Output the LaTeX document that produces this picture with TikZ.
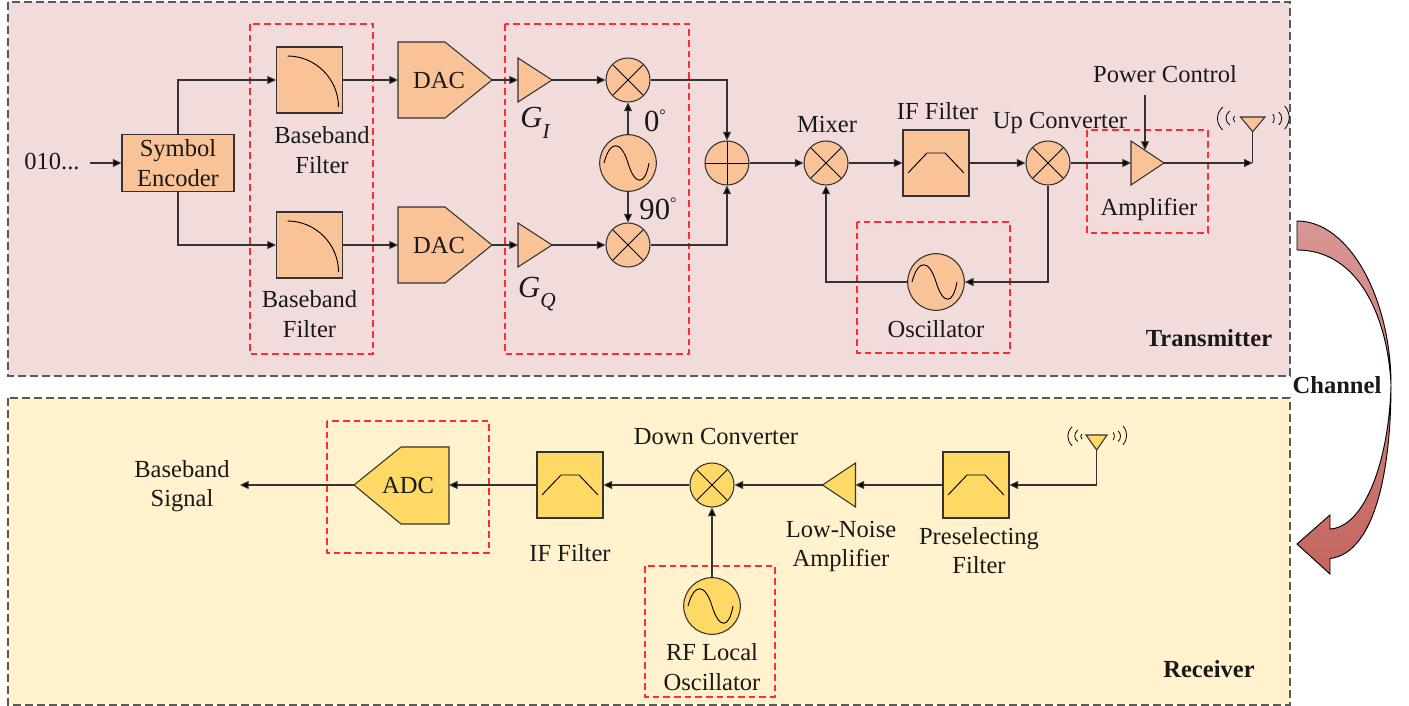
\documentclass[tikz,border=0pt]{standalone}
\usepackage{fontspec}
\setmainfont{Liberation Serif}
\usetikzlibrary{arrows.meta}
\definecolor{txbg}{HTML}{F2DCDB}
\definecolor{rxbg}{HTML}{FFF2CC}
\definecolor{txfill}{HTML}{FAC397}
\definecolor{rxfill}{HTML}{FFD966}
\definecolor{edge}{HTML}{333333}
\definecolor{panel}{HTML}{595959}
\definecolor{redbox}{HTML}{FF2A35}
\definecolor{chtop}{HTML}{D99694}
\definecolor{chbot}{HTML}{C4665E}
\tikzset{
  x=0.75pt,y=-0.75pt,
  panelbox/.style={draw=panel,line width=1pt,dash pattern=on 6pt off 3pt},
  groupbox/.style={draw=redbox,line width=0.9pt,dash pattern=on 5pt off 3pt},
  part/.style={draw=edge,line width=0.8pt,fill=#1},
  part/.default=txfill,
  conn/.style={draw=edge,line width=0.8pt},
  flow/.style={conn,-{Triangle[length=6.5pt,width=6pt,fill=black]}},
  glyph/.style={draw=black,line width=0.7pt},
  lbl/.style={align=center,inner sep=0pt,font=\fontsize{18.4}{22}\selectfont,text=black!90},
  head/.style={lbl,font=\fontsize{18.4}{22}\selectfont\bfseries},
  big/.style={lbl,font=\fontsize{23}{26}\selectfont},
  filt/.style={part=#1,rectangle,minimum width=49.5pt,minimum height=49.5pt,inner sep=0pt},
  mix/.style={part=#1,circle,minimum size=33pt,inner sep=0pt,path picture={
     \draw[glyph] (path picture bounding box.north west) -- (path picture bounding box.south east);
     \draw[glyph] (path picture bounding box.north east) -- (path picture bounding box.south west);}},
  add/.style={part=#1,circle,minimum size=33pt,inner sep=0pt,path picture={
     \draw[glyph] (path picture bounding box.north) -- (path picture bounding box.south);
     \draw[glyph] (path picture bounding box.east) -- (path picture bounding box.west);}},
  osc/.style={part=#1,circle,minimum size=42.5pt,inner sep=0pt},
}
\newcommand{\lowpassglyph}[1]{\draw[glyph,shift={(#1.center)}] (-22,-24) .. controls (6,-24) and (29,-1) .. (29,27);}
\newcommand{\bandglyph}[1]{\draw[glyph,shift={(#1.center)}] (-28,10) -- (-9,-10) -- (9,-10) -- (28,10);}
\newcommand{\sineglyph}[1]{\draw[glyph,shift={(#1.center)}] (-24,0) .. controls (-18,-23) and (-7,-23) .. (0,0) .. controls (7,23) and (17,23) .. (21,0);}
\newcommand{\wavesglyph}[2]{\begin{scope}[shift={(#1)},scale=#2]
  \draw[glyph,line width=0.6pt] (-30,-10) .. controls (-37,-3) and (-37,6) .. (-30,13);
  \draw[glyph,line width=0.6pt] (-23,-6) .. controls (-28,-2) and (-28,4) .. (-23,8);
  \draw[glyph,line width=0.6pt] (-18,-1) .. controls (-20,0) and (-20,3) .. (-18,5);
  \draw[glyph,line width=0.6pt] (20,-3) .. controls (22,-1) and (22,4) .. (20,6);
  \draw[glyph,line width=0.6pt] (26,-5) .. controls (30,-2) and (30,5) .. (26,8);
  \draw[glyph,line width=0.6pt] (32,-11) .. controls (38,-4) and (38,5) .. (32,12);
\end{scope}}
\begin{document}
\begin{tikzpicture}
\useasboundingbox (0,0) rectangle (1409,706);
% panels
\path[fill=txbg,panelbox] (8,2) rectangle (1290,376);
\path[fill=rxbg,panelbox] (8,398) rectangle (1290,705);
% groups
\draw[groupbox] (250,24) rectangle (373,354);
\draw[groupbox] (505,24) rectangle (689,354);
\draw[groupbox] (857,222) rectangle (1010,353);
\draw[groupbox] (1087,130) rectangle (1208,233);
\draw[groupbox] (327,421) rectangle (489,553);
\draw[groupbox] (645,566) rectangle (775,697);

% transmitter parts
\node[lbl] (bits) at (52,162) {010...};
\coordinate (bitsout) at (90,163);
\node[part,rectangle,minimum width=84pt,minimum height=42.75pt,inner sep=0pt,lbl] (enc) at (178,163) {Symbol\\Encoder};
\node[filt=txfill] (f1) at (309.5,80) {};
\node[filt=txfill] (f2) at (309.5,245) {};
\lowpassglyph{f1}\lowpassglyph{f2}
\node[lbl] (f1l) at (322,150) {Baseband\\Filter};
\node[lbl] (f2l) at (309.5,314) {Baseband\\Filter};
\draw[part] (398,42) -- (445,42) -- (492,80) -- (445,118) -- (398,118) -- cycle;
\draw[part] (398,207) -- (445,207) -- (492,245) -- (445,283) -- (398,283) -- cycle;
\node[lbl] (dac1) at (439,80) {DAC};
\node[lbl] (dac2) at (439,245) {DAC};
\coordinate (dac1w) at (398,80); \coordinate (dac1e) at (492,80);
\coordinate (dac2w) at (398,245); \coordinate (dac2e) at (492,245);
\draw[part] (518,58) -- (552,80) -- (518,102) -- cycle;
\draw[part] (518,223) -- (552,245) -- (518,267) -- cycle;
\coordinate (g1w) at (518,80); \coordinate (g1e) at (552,80);
\coordinate (g2w) at (518,245); \coordinate (g2e) at (552,245);
\node[big] (g1l) at (535,123) {\itshape G\raisebox{-0.35em}{\fontsize{16}{16}\selectfont I}};
\node[big] (g2l) at (537,294) {\itshape G\raisebox{-0.35em}{\fontsize{16}{16}\selectfont Q}};
\node[mix=txfill] (m1) at (628,80) {};
\node[mix=txfill] (m2) at (628,245) {};
\node[osc=txfill] (o1) at (628,163) {};
\sineglyph{o1}
\node[big] (deg0) at (655,121) {0\raisebox{0.35em}{\fontsize{12}{12}\selectfont °}};
\node[big] (deg90) at (658,209) {90\raisebox{0.35em}{\fontsize{12}{12}\selectfont °}};
\node[add=txfill] (sum) at (727,163) {};
\node[mix=txfill] (mx) at (826,163) {};
\node[lbl] (mxl) at (827,124) {Mixer};
\node[filt=txfill] (iff) at (936,163) {};
\bandglyph{iff}
\node[lbl] (iffl) at (937.5,111) {IF Filter};
\node[mix=txfill] (up) at (1048,163) {};
\node[lbl] (upl) at (1060,123) {Up Converter};
\node[osc=txfill] (o2) at (936,282) {};
\sineglyph{o2}
\node[lbl] (o2l) at (936,329) {Oscillator};
\draw[part] (1131,141) -- (1164,163) -- (1131,185) -- cycle;
\coordinate (paw) at (1131,163); \coordinate (pae) at (1164,163);
\node[lbl] (pal) at (1149,209.5) {Amplifier};
\node[lbl] (pcl) at (1165,74) {Power Control};
\coordinate (pcs) at (1145,95.5); \coordinate (pct) at (1145,150);
\draw[part] (1240.5,117) -- (1265,117) -- (1252.7,131.7) -- cycle;
\coordinate (ant1) at (1252.7,131.7); \coordinate (ant1j) at (1252.7,163);
\wavesglyph{1252.7,117}{1}
\node[head] (txl) at (1209,338.5) {Transmitter};

% transmitter connectors
\draw[flow] (bitsout) -- (enc.west);
\draw[flow] (enc.north) |- (f1.west);
\draw[flow] (enc.south) |- (f2.west);
\draw[flow] (f1.east) -- (dac1w);
\draw[flow] (f2.east) -- (dac2w);
\draw[flow] (dac1e) -- (g1w);
\draw[flow] (dac2e) -- (g2w);
\draw[flow] (g1e) -- (m1.west);
\draw[flow] (g2e) -- (m2.west);
\draw[flow] (o1.north) -- (m1.south);
\draw[flow] (o1.south) -- (m2.north);
\draw[flow] (m1.east) -| (sum.north);
\draw[flow] (m2.east) -| (sum.south);
\draw[flow] (sum.east) -- (mx.west);
\draw[flow] (mx.east) -- (iff.west);
\draw[flow] (iff.east) -- (up.west);
\draw[flow] (up.east) -- (paw);
\draw[flow] (up.south) |- (o2.east);
\draw[flow] (o2.west) -| (mx.south);
\draw[flow] (pcs) -- (pct);
\draw[flow] (pae) -- (ant1j);
\draw[conn] (ant1) -- (ant1j);

% channel arrow
\shade[top color=chtop,bottom color=chbot,draw=black,line width=0.7pt]
  (1297,221) .. controls (1350,221) and (1391,300) .. (1391,385)
  .. controls (1391,470) and (1375,553) .. (1330,558.5)
  -- (1330,574) -- (1297,544) -- (1330,515) -- (1330,529)
  .. controls (1365,527) and (1389,460) .. (1391,385)
  .. controls (1388,320) and (1360,250) .. (1297,250) -- cycle;
\node[head] (chl) at (1337,385) {Channel};

% receiver parts
\node[lbl] (bbl) at (182,486) {Baseband\\Signal};
\coordinate (bbout) at (240,485);
\draw[part=rxfill] (354,485) -- (401,447) -- (449,447) -- (449,524) -- (401,524) -- cycle;
\node[lbl] (adc) at (408,485) {ADC};
\coordinate (adcw) at (354,485); \coordinate (adce) at (449,485);
\node[filt=rxfill] (rif) at (570,485) {};
\bandglyph{rif}
\node[lbl] (rifl) at (570,553) {IF Filter};
\node[mix=rxfill] (dn) at (712,485) {};
\node[lbl] (dnl) at (716,436) {Down Converter};
\draw[part=rxfill] (822.5,485) -- (855.5,463) -- (855.5,507) -- cycle;
\coordinate (lnaw) at (822.5,485); \coordinate (lnae) at (855.5,485);
\node[lbl] (lnal) at (841,546.5) {Low-Noise\\Amplifier};
\node[filt=rxfill] (pre) at (976,485) {};
\bandglyph{pre}
\node[lbl] (prel) at (979,550.5) {Preselecting\\Filter};
\node[osc=rxfill] (o3) at (712,606) {};
\sineglyph{o3}
\node[lbl] (o3l) at (712,667) {RF Local\\Oscillator};
\draw[part=rxfill] (1086,435) -- (1107,435) -- (1096.7,450) -- cycle;
\coordinate (ant2) at (1096.7,450); \coordinate (ant2j) at (1096.7,485);
\wavesglyph{1096.7,435}{0.82}
\node[head] (rxl) at (1209,669) {Receiver};

% receiver connectors
\draw[conn] (ant2) -- (ant2j);
\draw[flow] (ant2j) -- (pre.east);
\draw[flow] (pre.west) -- (lnae);
\draw[flow] (lnaw) -- (dn.east);
\draw[flow] (dn.west) -- (rif.east);
\draw[flow] (rif.west) -- (adce);
\draw[flow] (adcw) -- (bbout);
\draw[flow] (o3.north) -- (dn.south);
\end{tikzpicture}
\end{document}
